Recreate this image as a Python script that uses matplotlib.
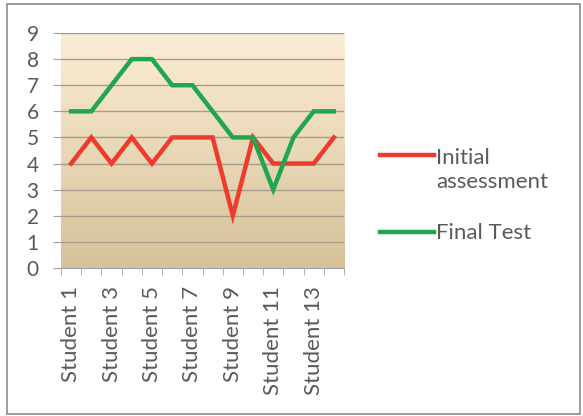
import numpy as np
import matplotlib
matplotlib.use("Agg")
import matplotlib.pyplot as plt
from matplotlib.lines import Line2D
from matplotlib.patches import Rectangle
from matplotlib.colors import LinearSegmentedColormap

plt.rcParams['font.family'] = ['Lato', 'DejaVu Sans']

students = [f"Student {i}" for i in range(1, 15)]
initial = [4, 5, 4, 5, 4, 5, 5, 5, 2, 5, 4, 4, 4, 5]
final = [6, 6, 7, 8, 8, 7, 7, 6, 5, 5, 3, 5, 6, 6]
y_ticks = list(range(0, 10))

red = '#EE3B2B'
green = '#1FA64E'
text_col = '#5A5A5A'

fig = plt.figure(figsize=(5.83, 4.16), dpi=100)
fig.patch.set_facecolor('white')
# outer frame
fig.add_artist(Rectangle((7 / 583, 2 / 416), 573 / 583, 410 / 416,
                         transform=fig.transFigure, fill=False,
                         edgecolor='#8C8C8C', lw=1.2))

ax = fig.add_axes([61 / 583, 1 - 268 / 416, 283 / 583, 235 / 416])
x = np.arange(len(students))

# beige gradient behind the plot
grad = LinearSegmentedColormap.from_list('beige', ['#D6C299', '#FCEDD6'])
ax.imshow(np.linspace(0, 1, 256).reshape(-1, 1), cmap=grad, aspect='auto',
          origin='lower', extent=[-0.5, 13.5, 0, 9], zorder=0)

for v in y_ticks[1:]:
    ax.axhline(v, color='#A89C8C', lw=1.0, zorder=1)

ax.plot(x, initial, color=red, lw=3.2, solid_joinstyle='miter', zorder=3)
ax.plot(x, final, color=green, lw=3.2, solid_joinstyle='miter', zorder=3)

ax.set_xlim(-0.5, 13.5)
ax.set_ylim(0, 9)
ax.set_yticks(y_ticks)
ax.set_yticklabels([str(v) for v in y_ticks])
ax.set_xticks(x[::2])
ax.set_xticklabels(students[::2], rotation=90)
ax.set_xticks(np.arange(-0.5, 14, 1), minor=True)
ax.tick_params(axis='x', which='major', length=0, pad=13, labelsize=16,
               labelcolor=text_col)
ax.tick_params(axis='x', which='minor', length=5, color='#A0A0A0')
ax.tick_params(axis='y', length=6, color='#A0A0A0', pad=10, labelsize=15,
               labelcolor=text_col)
for s in ['top', 'right', 'left']:
    ax.spines[s].set_visible(False)
ax.spines['bottom'].set_color('#A0A0A0')

# legend drawn beside the plot
fig.add_artist(Line2D([380 / 583, 434 / 583], [1 - 155 / 416, 1 - 155 / 416],
                      color=red, lw=3.2, transform=fig.transFigure))
fig.text(436 / 583, 1 - 170 / 416, "Initial\nassessment", fontsize=16,
         color=text_col, va='center', ha='left', linespacing=1.2)
fig.add_artist(Line2D([380 / 583, 434 / 583], [1 - 232 / 416, 1 - 232 / 416],
                      color=green, lw=3.2, transform=fig.transFigure))
fig.text(436 / 583, 1 - 233 / 416, "Final Test", fontsize=16,
         color=text_col, va='center', ha='left')

fig.savefig('out.png', dpi=100)
